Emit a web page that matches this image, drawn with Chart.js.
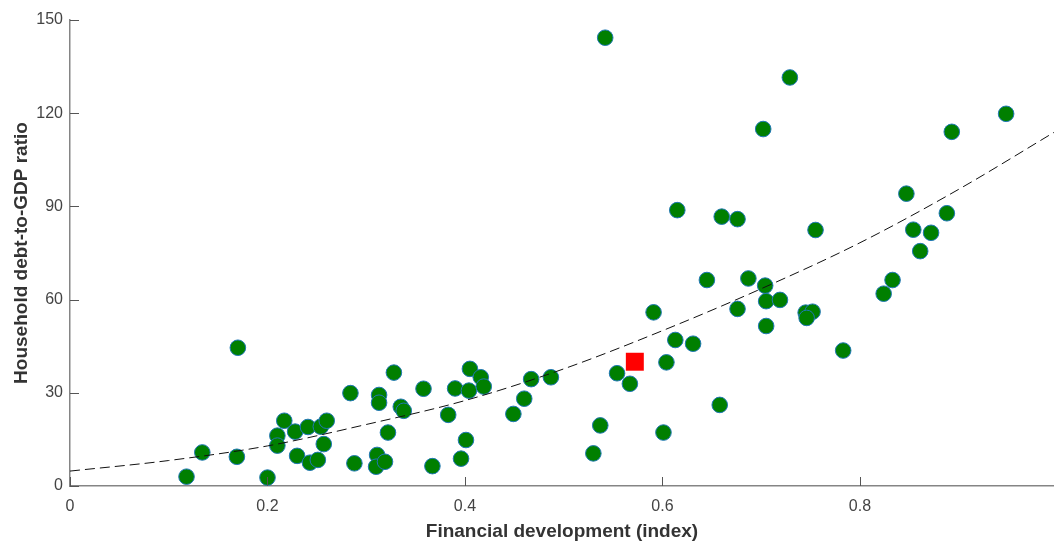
<!DOCTYPE html>
<html>
<head>
<meta charset="utf-8">
<script src="https://cdn.jsdelivr.net/npm/chart.js@4.4.1/dist/chart.umd.min.js"></script>
<style>
  html, body { margin: 0; padding: 0; background: #fff; }
  #wrap { width: 1054px; height: 541px; }
</style>
</head>
<body>
<div id="wrap"><canvas id="scatterChart"></canvas></div>
<script>
// countries: financial development index vs household debt-to-GDP
const finDev = [
  0.118, 0.134, 0.170, 0.169, 0.200, 0.210, 0.210, 0.217, 0.228, 0.230,
  0.241, 0.243, 0.251, 0.254, 0.257, 0.260, 0.284, 0.288, 0.313, 0.313,
  0.311, 0.310, 0.319, 0.322, 0.328, 0.335, 0.338, 0.358, 0.367, 0.383,
  0.390, 0.396, 0.401, 0.405, 0.404, 0.416, 0.419, 0.449, 0.460, 0.467,
  0.487, 0.530, 0.537, 0.542, 0.554, 0.567, 0.591, 0.601, 0.604, 0.613,
  0.615, 0.631, 0.645, 0.658, 0.660, 0.676, 0.676, 0.687, 0.702, 0.704,
  0.705, 0.705, 0.719, 0.729, 0.745, 0.752, 0.746, 0.755, 0.783, 0.824,
  0.833, 0.847, 0.854, 0.861, 0.872, 0.888, 0.893, 0.948
];
const debtRatio = [
  3.0, 10.8, 44.5, 9.4, 2.7, 16.2, 13.0, 21.0, 17.5, 9.7,
  19.0, 7.5, 8.4, 19.1, 13.5, 21.0, 29.9, 7.3, 29.3, 26.8,
  10.0, 6.2, 7.8, 17.2, 36.5, 25.5, 24.2, 31.3, 6.4, 22.9,
  31.4, 8.8, 14.8, 37.7, 30.7, 35.0, 32.0, 23.2, 28.1, 34.4,
  35.0, 10.5, 19.5, 144.3, 36.3, 32.9, 55.9, 17.2, 39.8, 47.0,
  88.8, 45.8, 66.3, 26.1, 86.7, 85.9, 57.0, 66.8, 114.9, 64.5,
  59.5, 51.5, 59.9, 131.5, 55.8, 56.1, 54.1, 82.4, 43.6, 61.9,
  66.3, 94.1, 82.5, 75.6, 81.5, 87.8, 114.0, 119.8
];

// highlighted country (red square)
const highlightX = [0.572];
const highlightY = [40.0];

// fitted curve
const fitX = [0, 0.1, 0.2, 0.3, 0.4, 0.5, 0.6, 0.7, 0.8, 0.9, 1.0];
const fitY = [4.8, 8.2, 12.9, 19.8, 27.5, 37.7, 50.0, 63.5, 78.3, 95.5, 114.5];

const yTicks = [0, 30, 60, 90, 120, 150];
const xTicks = [0, 0.2, 0.4, 0.6, 0.8];

const toPoints = (xs, ys) => xs.map((x, i) => ({ x: x, y: ys[i] }));

// MATLAB style: short tick marks pointing into the plot
const inwardTicks = {
  id: 'inwardTicks',
  afterDraw(chart) {
    const { ctx, chartArea, scales } = chart;
    const len = 9;
    ctx.save();
    ctx.strokeStyle = '#555';
    ctx.lineWidth = 1;
    ctx.beginPath();
    xTicks.forEach(v => {
      const px = Math.round(scales.x.getPixelForValue(v)) + 0.5;
      ctx.moveTo(px, chartArea.bottom);
      ctx.lineTo(px, chartArea.bottom - len);
    });
    yTicks.forEach(v => {
      const py = Math.round(scales.y.getPixelForValue(v)) + 0.5;
      ctx.moveTo(chartArea.left, py);
      ctx.lineTo(chartArea.left + len, py);
    });
    ctx.stroke();
    ctx.restore();
  }
};

const tickFont = { family: '"Liberation Sans", Arial, sans-serif', size: 16 };
const titleFont = { family: '"Liberation Sans", Arial, sans-serif', size: 19, weight: 'bold', lineHeight: 1 };

const ctx = document.getElementById('scatterChart').getContext('2d');
const myChart = new Chart(ctx, {
  type: 'scatter',
  data: {
    datasets: [
      {
        label: 'Highlight',
        data: toPoints(highlightX, highlightY),
        pointStyle: 'rect',
        pointRadius: 12.7,
        backgroundColor: '#ff0000',
        borderColor: '#ff0000',
        borderWidth: 0,
        order: 0
      },
      {
        label: 'Fit',
        data: toPoints(fitX, fitY),
        showLine: true,
        pointRadius: 0,
        borderColor: '#111',
        borderWidth: 1,
        borderDash: [10, 5],
        cubicInterpolationMode: 'monotone',
        order: 1
      },
      {
        label: 'Countries',
        data: toPoints(finDev, debtRatio),
        pointStyle: 'circle',
        pointRadius: 7.8,
        backgroundColor: '#007f00',
        borderColor: '#1f77b4',
        borderWidth: 1,
        order: 2
      }
    ]
  },
  options: {
    responsive: true,
    maintainAspectRatio: false,
    animation: false,
    events: [],
    layout: { autoPadding: false, padding: { top: 20, right: 0, left: 0, bottom: 0 } },
    plugins: {
      legend: { display: false },
      tooltip: { enabled: false }
    },
    scales: {
      x: {
        type: 'linear',
        min: 0,
        max: 0.9965,
        afterBuildTicks: s => { s.ticks = xTicks.map(v => ({ value: v })); },
        afterFit: s => {
          s.height = 55;
          s.paddingLeft = 0; s.paddingRight = 0;
          s.paddingTop = 0; s.paddingBottom = 0;
        },
        grid: { display: false, drawTicks: false },
        border: { display: true, color: '#858585', width: 1.5 },
        ticks: {
          color: '#444',
          font: tickFont,
          padding: 11,
          maxRotation: 0,
          callback: v => String(v)
        },
        title: {
          display: true,
          text: 'Financial development (index)',
          color: '#333',
          font: titleFont,
          padding: { top: 0, bottom: 0 }
        }
      },
      y: {
        type: 'linear',
        min: 0,
        max: 150,
        afterBuildTicks: s => { s.ticks = yTicks.map(v => ({ value: v })); },
        afterFit: s => {
          s.width = 70;
          s.paddingLeft = 0; s.paddingRight = 0;
          s.paddingTop = 0; s.paddingBottom = 0;
        },
        grid: { display: false, drawTicks: false },
        border: { display: true, color: '#858585', width: 1.5 },
        ticks: {
          color: '#444',
          font: tickFont,
          padding: 7
        },
        title: {
          display: true,
          text: 'Household debt-to-GDP ratio',
          color: '#333',
          font: titleFont,
          padding: { top: 12, bottom: 0 }
        }
      }
    }
  },
  plugins: [inwardTicks]
});
</script>
</body>
</html>
